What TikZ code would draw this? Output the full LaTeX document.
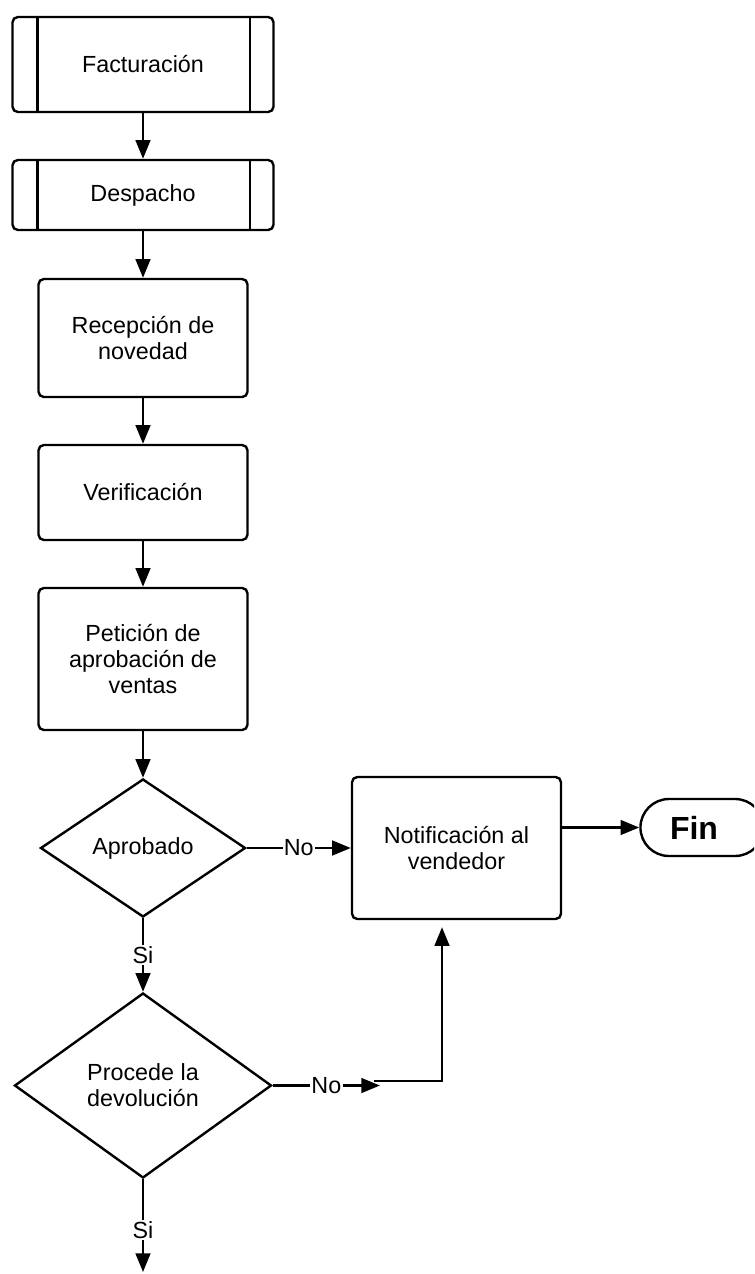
\documentclass[tikz,border=0pt]{standalone}
\usepackage{fontspec}
\setmainfont{Liberation Sans}
\usetikzlibrary{shapes.geometric,shapes.misc,arrows.meta}
\newdimen\unitsize
\setlength{\unitsize}{0.75pt}

\begin{document}
\begin{tikzpicture}[x=\unitsize,y=\unitsize,line width=1.8pt,
  every node/.style={font=\fontsize{17.5}{19.5}\selectfont,align=center},
  box/.style={draw,rectangle,rounded corners=4pt,
    minimum width=209\unitsize,inner sep=0pt},
  subbox/.style={box,minimum width=261\unitsize},
  decision/.style={draw,diamond,inner sep=0pt},
  endbox/.style={draw,rounded rectangle,minimum width=132\unitsize,
    minimum height=57\unitsize,font=\fontsize{24}{28}\selectfont\bfseries},
  flow/.style={-{Triangle[length=14pt,width=11pt]}},
  lbl/.style={fill=white,inner sep=1pt}]
\useasboundingbox (0,0) rectangle (754,-1274);
\clip (0,0) rectangle (754,-1274);
\node[subbox,minimum height=95\unitsize] (fact) at (143,-64.5) {Facturación};
\node[subbox,minimum height=70\unitsize] (desp) at (143,-195) {Despacho};
\node[box,minimum height=118\unitsize] (recep) at (143,-338)
  {Recepción de\\novedad};
\node[box,minimum height=95\unitsize] (verif) at (143,-492.5) {Verificación};
\node[box,minimum height=142\unitsize] (pet) at (143,-659)
  {Petición de\\aprobación de\\ventas};
\node[decision,minimum width=205\unitsize,minimum height=138\unitsize]
  (aprob) at (143,-848) {Aprobado};
\node[decision,minimum width=257\unitsize,minimum height=185\unitsize]
  (proc) at (143,-1085.5) {Procede la\\devolución};
\node[box,minimum height=142\unitsize] (notif) at (456.5,-848)
  {Notificación al\\vendedor};
\node[endbox] (fin) at (702,-827.5) {\hspace*{-12pt}Fin};
\coordinate (procno) at (380,-1085.5);
\coordinate (notifin) at (374,-1081);
\coordinate (procsi) at (143,-1272);
\foreach \sub in {fact,desp}{
  \draw ([xshift=26\unitsize]\sub.north west)
    -- ([xshift=26\unitsize]\sub.south west);
  \draw ([xshift=-25\unitsize]\sub.north east)
    -- ([xshift=-25\unitsize]\sub.south east);
}
\foreach \from/\to in {fact/desp,desp/recep,recep/verif,verif/pet,pet/aprob}
  \draw[flow] (\from) -- (\to);
\draw[flow] (aprob) -- node[lbl] {No} (notif);
\draw[flow] (notif.east |- fin) -- (fin);
\draw[flow] (aprob) -- node[lbl] {Si} (proc);
\draw[flow] (proc) -- node[lbl] {No} (procno);
\draw[flow,shorten >=7\unitsize] (notifin)
  -| ([xshift=-14.5\unitsize]notif.south);
\draw[flow] (proc) -- node[lbl,pos=0.55] {Si} (procsi);
\end{tikzpicture}
\end{document}
